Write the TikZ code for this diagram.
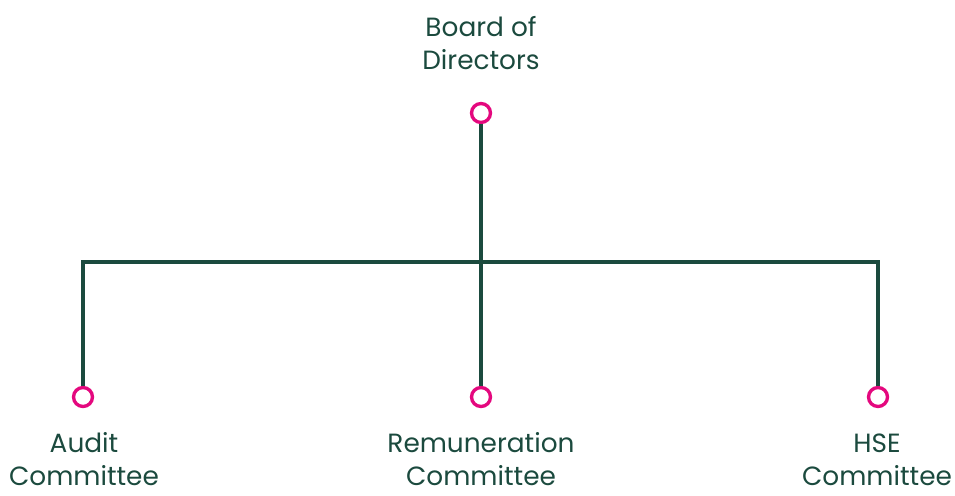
\documentclass[tikz,border=0pt]{standalone}
\usepackage{fontspec}
\setmainfont{Poppins}
\usepackage{tikz}

\definecolor{boardgreen}{HTML}{1B4A3E}
\definecolor{dotpink}{HTML}{E4087E}

\tikzset{
    dot/.style={circle, draw=dotpink, line width=1.9pt, fill=white, minimum size=10.8pt, inner sep=0pt},
    link/.style={draw=boardgreen, line width=1.9pt},
    label/.style={text=boardgreen, align=center, anchor=base, inner sep=0pt, font=\fontsize{15}{18.4}\selectfont}
}

\begin{document}
\begin{tikzpicture}[x=0.02cm, y=-0.02cm]
    \useasboundingbox (0,0) rectangle (955,495);
    \node[dot] (board) at (481,113) {};
    \node[dot] (audit) at (83,397) {};
    \node[dot] (remun) at (481,397) {};
    \node[dot] (hse) at (878,397) {};
    \coordinate (bus) at (481,262);
    \draw[link] (board) -- (bus);
    \draw[link] (bus) -| (audit);
    \draw[link] (bus) -| (hse);
    \draw[link] (bus) -- (remun);
    \node[label] (boardtext) at (481,69) {Board of\\Directors};
    \node[label] (audittext) at (84,485) {Audit\\Committee};
    \node[label] (remuntext) at (481,485) {Remuneration\\Committee};
    \node[label] (hsetext) at (877,485) {HSE\\Committee};
\end{tikzpicture}
\end{document}
